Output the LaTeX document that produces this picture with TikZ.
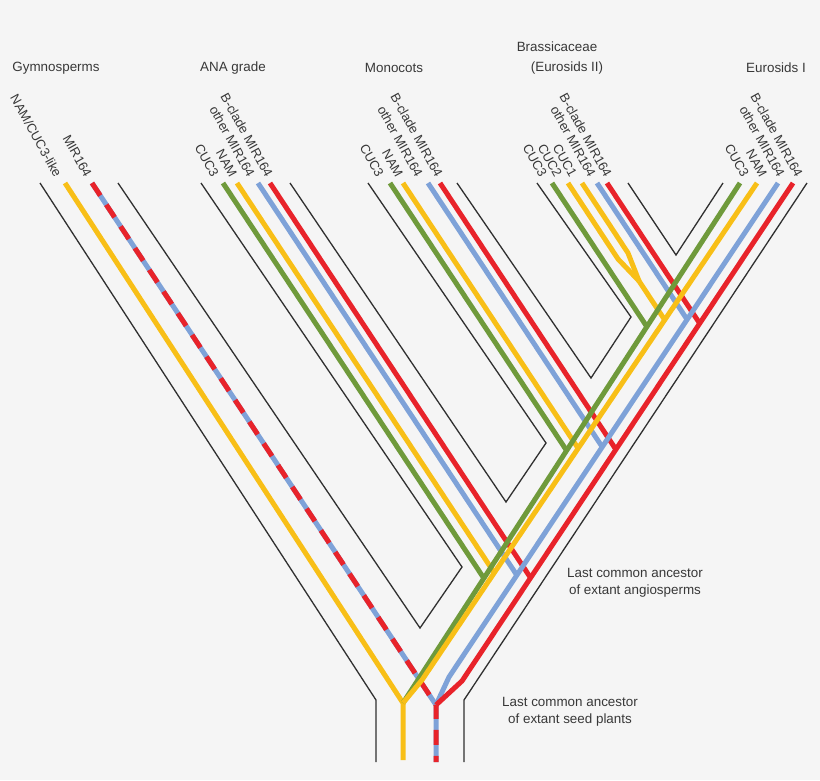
\documentclass[tikz,border=0pt]{standalone}
\usepackage{fontspec}
\setmainfont{Liberation Sans}
\usepackage{tikz}
\usetikzlibrary{calc}
\definecolor{cucgreen}{HTML}{6F9A3B}
\definecolor{namyellow}{HTML}{F8BF17}
\definecolor{mirblue}{HTML}{7EA2D8}
\definecolor{mirred}{HTML}{E8232A}
\definecolor{wallgray}{HTML}{303030}
\definecolor{txtgray}{HTML}{383838}
\definecolor{bgpaper}{HTML}{F5F5F5}
\tikzset{
  wall/.style={draw=wallgray,line width=1.3pt,line join=miter},
  gene/.style={line width=5pt,line join=round},
  genelab/.style={rotate=-61,anchor=east,inner sep=1pt,text=txtgray,font=\fontsize{13}{15}\selectfont},
  clade/.style={inner sep=0pt,text=txtgray}
}

\begin{document}
\begin{tikzpicture}[x=1pt,y=-1pt,font=\fontsize{13.4}{17}\selectfont]
\fill[bgpaper] (0,0) rectangle (820,780);
\useasboundingbox (0,0) rectangle (820,780);

\foreach \n/\x/\y/\lab in {gym/56/68/Gymnosperms,ana/233/68/ANA grade,mono/394/68/Monocots,
  bra/557/47/Brassicaceae,eud/567/68/(Eurosids II),eui/776/68/Eurosids I}
  \node[clade] (\n) at (\x,\y) {\lab};

\foreach \x/\lab [count=\i] in {59/{NAM/CUC3-like},89/MIR164,
  216/CUC3,234/NAM,252/other MIR164,270/B-clade MIR164,
  381/CUC3,400/NAM,420/other MIR164,440/B-clade MIR164,
  544/CUC3,559/CUC2,574/CUC1,593/other MIR164,609/B-clade MIR164,
  746/CUC3,764/NAM,782/other MIR164,800/B-clade MIR164}
  \node[genelab] (lab\i) at (\x,177) {\lab};

\coordinate (gT) at (740,183);
\coordinate (yT) at (757,183);
\coordinate (bT) at (778,183);
\coordinate (rT) at (793,183);
\coordinate (seedY) at (403,703);
\coordinate (seedM) at (436,705);
\coordinate (yB) at (422,680);
\coordinate (bB) at (449,677);
\coordinate (rB) at (462,681);

\draw[wall] (40,183) -- (376,700) -- (376,762);
\draw[wall] (118,183) -- (420,628) -- (462,567) -- (201,183);
\draw[wall] (290,183) -- (506,502) -- (546,443) -- (368,183);
\draw[wall] (457,183) -- (591,378) -- (631,317) -- (537,183);
\draw[wall] (628,183) -- (676,255) -- (723,183);
\draw[wall] (807,183) -- (464,700) -- (464,762);

\foreach \xt/\c/\p/\q in {223/cucgreen/gT/seedY,237/namyellow/yT/yB,258/mirblue/bT/bB,270/mirred/rT/rB,
  390/cucgreen/gT/seedY,403/namyellow/yT/yB,428/mirblue/bT/bB,440/mirred/rT/rB,
  552/cucgreen/gT/seedY,597/mirblue/bT/bB,607/mirred/rT/rB}
{
  \coordinate (top) at (\xt,183);
  \coordinate (dir) at (\xt+264,583);
  \draw[gene,\c] (top) -- (intersection of top--dir and \p--\q);
}

\coordinate (brY) at (639,281);
\coordinate (brY2) at (705,381);
\draw[gene,namyellow] (568,183) -- (618,259) -- (brY);
\draw[gene,namyellow] (582,183) -- (628,253) -- (brY);
\draw[gene,namyellow] (brY) -- (intersection of brY--brY2 and yT--yB);

\draw[gene,namyellow] (65,183) -- (seedY) -- (403,760);
\draw[gene,mirblue] (92,183) -- (seedM) -- (436,762);
\draw[gene,mirred,dash pattern=on 15pt off 11pt] (92,183) -- (seedM) -- (436,762);

\draw[gene,cucgreen] (gT) -- (seedY);
\draw[gene,namyellow] (yT) -- (yB) -- (seedY);
\draw[gene,mirblue] (bT) -- (bB) -- (seedM);
\draw[gene,mirred] (rT) -- (rB) -- (seedM);

\node[clade,align=center] (lcaAng) at (635,583) {Last common ancestor\\of extant angiosperms};
\node[clade,align=center] (lcaSeed) at (570,712) {Last common ancestor\\of extant seed plants};
\end{tikzpicture}
\end{document}
